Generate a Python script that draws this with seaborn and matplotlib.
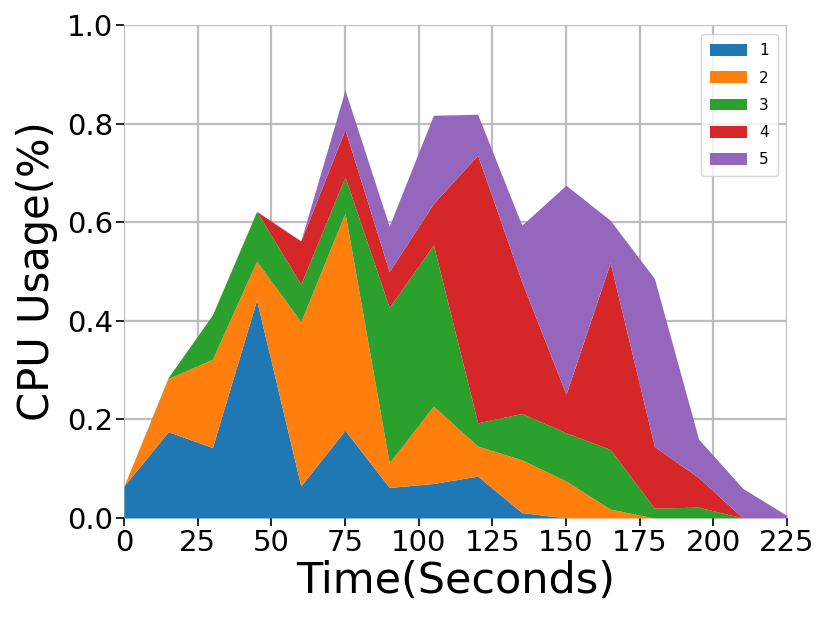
import matplotlib
matplotlib.use("Agg")
import matplotlib.pyplot as plt
import seaborn as sns
import numpy as np

time_s = [0, 15, 30, 45, 60, 75, 90, 105, 120, 135, 150, 165, 180, 195, 210, 225]
s1 = [0.065, 0.175, 0.143, 0.442, 0.065, 0.178, 0.062, 0.070, 0.085, 0.011, 0, 0, 0, 0, 0, 0]
s2 = [0, 0.108, 0.179, 0.079, 0.333, 0.441, 0.050, 0.157, 0.061, 0.107, 0.075, 0.018, 0, 0, 0, 0]
s3 = [0, 0.002, 0.090, 0.101, 0.076, 0.073, 0.315, 0.327, 0.047, 0.094, 0.098, 0.121, 0.020, 0.022, 0, 0]
s4 = [0, 0, 0, 0, 0.088, 0.096, 0.073, 0.084, 0.543, 0.267, 0.078, 0.379, 0.125, 0.060, 0, 0]
s5 = [0, 0, 0, 0, 0, 0.080, 0.092, 0.179, 0.083, 0.115, 0.424, 0.086, 0.341, 0.078, 0.060, 0.005]
labels = ["1", "2", "3", "4", "5"]
xticks = [0, 25, 50, 75, 100, 125, 150, 175, 200, 225]
yticks = [0.0, 0.2, 0.4, 0.6, 0.8, 1.0]

sns.set_style("whitegrid")
plt.rcParams['font.family'] = ['DejaVu Sans']
plt.rcParams.update({"text.color": "black", "axes.labelcolor": "black",
                     "xtick.color": "black", "ytick.color": "black"})
colors = sns.color_palette("tab10", 5)

fig = plt.figure(figsize=(8.3, 6.25), dpi=100)
ax = fig.add_axes([124/830, 1 - 518/625, (787-124)/830, (518-25)/625])
ax.stackplot(time_s, s1, s2, s3, s4, s5, labels=labels, colors=colors, linewidth=0)
ax.set_xlim(0, 225)
ax.set_ylim(0, 1.0)
ax.set_xticks(xticks)
ax.set_yticks(yticks)
ax.set_yticklabels([f"{v:.1f}" for v in yticks])
ax.grid(True, color="#bdbdbd", linewidth=1.6)
ax.set_axisbelow(True)
for side in ["top", "right", "left", "bottom"]:
    ax.spines[side].set_visible(False)
ax.tick_params(axis="both", which="major", labelsize=21, length=6, width=1.2,
               color="black", bottom=True, left=True, pad=2)
ax.set_xlabel("Time(Seconds)", fontsize=31, labelpad=2)
ax.set_ylabel("CPU Usage(%)", fontsize=30, labelpad=6)
ax.legend(loc="upper right", fontsize=11, frameon=True, fancybox=True,
          borderpad=0.6, handlelength=2.4, handleheight=0.8, labelspacing=0.8,
          borderaxespad=0.6)
fig.savefig("out.png", dpi=100)
